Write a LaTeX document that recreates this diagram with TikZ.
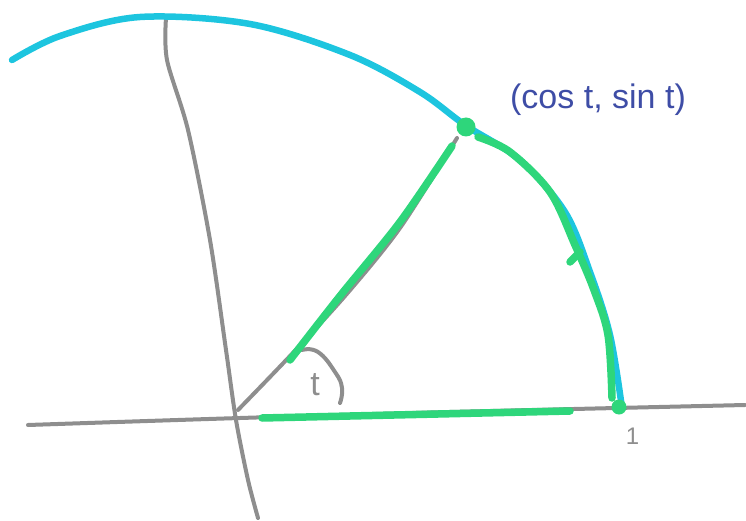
\documentclass[tikz,border=0pt]{standalone}
\usepackage{fontspec}
\setsansfont{Liberation Sans}
\usetikzlibrary{positioning}
\definecolor{grigio}{HTML}{8E8E8E}
\definecolor{ciano}{HTML}{1DC5DF}
\definecolor{verde}{HTML}{2ED67B}
\definecolor{blu}{HTML}{3E4DA6}
\tikzset{
  asse/.style={grigio, line width=4pt, line cap=round, line join=round},
  cerchio/.style={ciano, line width=6.5pt, line cap=round, line join=round},
  tratto/.style={verde, line width=7.5pt, line cap=round, line join=round},
  punto/.style={circle, fill=verde, inner sep=0pt, minimum size=19pt},
  etichetta/.style={font=\sffamily\fontsize{34}{34}\selectfont, text=blu},
}
\begin{document}
\begin{tikzpicture}[x=1pt, y=-1pt]
\useasboundingbox (0,0) rectangle (746,521);
% Assi
\draw[asse] plot[smooth, tension=0.5] coordinates {(28,425) (240,418) (450,412) (745,405)};
\draw[asse] plot[smooth, tension=0.5] coordinates {(166,18) (167,60) (188,130) (210,240) (226,350) (236,420) (248,480) (258,518)};
% Raggio e angolo
\draw[asse] plot[smooth, tension=0.5] coordinates {(238,410) (290,356) (345,296) (400,228) (457,138)};
\draw[asse] plot[smooth, tension=0.8] coordinates {(302,350) (318,352) (335,372) (342,388) (340,403)};
\node[font=\sffamily\fontsize{34}{34}\selectfont, text=grigio] (t) at (315,385) {t};
% Circonferenza
\draw[cerchio] plot[smooth, tension=0.55] coordinates {(12,60) (60,36) (140,17) (250,24) (350,55) (420,92) (465,125) (520,160) (565,212) (590,272) (610,335) (622,408)};
% Tratti verdi
\coordinate (P) at (466,127);
\coordinate (Q) at (619,407);
\draw[tratto] plot[smooth, tension=0.5] coordinates {(290,360) (340,296) (400,222) (452,146)};
\draw[tratto] plot[smooth, tension=0.55] coordinates {(478,137) (510,152) (550,192) (575,245) (594,290) (608,335) (612,398)};
\draw[tratto] (580,252) -- (570,262);
\draw[tratto] (262,418) -- (570,411);
\node[punto] (pP) at (P) {};
\node[punto, minimum size=15pt] (pQ) at (Q) {};
% Etichette
\node[etichetta] (lab) at (598,100) {(cos t, sin t)};
\node[font=\sffamily\fontsize{24}{24}\selectfont, text=grigio, below right=12pt and -2pt of pQ] (uno) {1};
\end{tikzpicture}
\end{document}
